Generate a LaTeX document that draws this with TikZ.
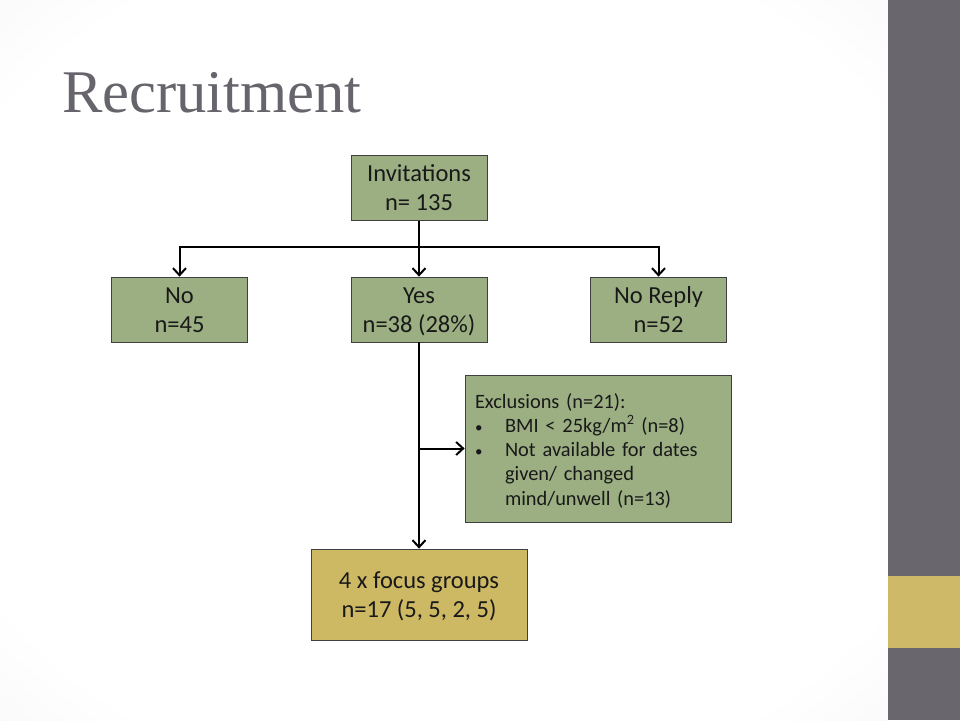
\documentclass[tikz,border=0pt]{standalone}
\usepackage{fontspec}
\setmainfont{Carlito}
\newfontfamily\titlefont{Liberation Serif}
\usetikzlibrary{arrows.meta,calc}
\definecolor{boxgreen}{HTML}{9BAF82}
\definecolor{boxgold}{HTML}{CDB864}
\definecolor{bargrey}{HTML}{69666D}
\definecolor{bargold}{HTML}{CDB968}
\definecolor{titlegrey}{HTML}{67646C}
\pgfdeclareradialshading{slideshade}{\pgfpoint{0bp}{0bp}}{color(0bp)=(white); color(30bp)=(white); color(71bp)=(black!14)}
\def\bstrut{\rule[-6pt]{0pt}{28pt}}
\def\smallbullet{{\fontsize{15}{15}\selectfont\textbullet}}
\tikzset{
	box/.style={draw=black!75, line width=0.8pt, fill=boxgreen, text=black!90, minimum width=136pt, minimum height=65pt, inner sep=0pt, align=center, font=\fontsize{24.5}{29}\selectfont},
	link/.style={line width=2pt},
	arr/.style={line width=2pt, -{Straight Barb[length=7pt,width=13pt]}}
}

\begin{document}
\begin{tikzpicture}[x=1pt,y=-1pt]
			%%%%% START %%%%%
			
			\useasboundingbox (0,0) rectangle (960,720);
			\shade[shading=slideshade] (0,0) rectangle (888,720);
			\fill[bargrey] (888,0) rectangle (960,720);
			\fill[bargold] (888,576) rectangle (960,648);
			
			\node[anchor=base west, inner sep=0pt, text=titlegrey, font=\titlefont\fontsize{60.6}{62}\selectfont] (title) at (62,112) {Recruitment};
			
			\node[box] (inv) at (419,188) {\bstrut Invitations\\\bstrut n= 135};
			\node[box] (no) at (179.5,309.5) {\bstrut No\\\bstrut n=45};
			\node[box] (yes) at (419,309.5) {\bstrut Yes\\\bstrut n=38 (28\%)};
			\node[box] (noreply) at (658.5,309.5) {\bstrut No Reply\\\bstrut n=52};
			
			\node[box, minimum width=266pt, minimum height=147pt, text width=246pt, align=left, font=\fontsize{20.4}{24.25}\selectfont] (excl) at (598,448.5) {%
				\begin{tabular}{@{}p{30pt}@{}l@{}}
				\multicolumn{2}{@{}l@{}}{\rule{0pt}{23.3pt}Exclusions (n=21):}\\
				\smallbullet & BMI < 25kg/m\textsuperscript{2} (n=8)\\
				\smallbullet & Not available for dates\\
				 & given/ changed\\
				 & mind/unwell (n=13)
				\end{tabular}};
			
			\node[box, fill=boxgold, minimum width=216pt, minimum height=91pt] (focus) at (419,594.5) {\bstrut 4 x focus groups\\\bstrut n=17 (5, 5, 2, 5)};
			
			% branches
			\coordinate (split) at (419,247);
			\coordinate (exsplit) at (yes.south |- excl.west);
			\draw[link] (inv.south) -- (split);
			\draw[arr] (split) -| (no.north);
			\draw[arr] (split) -| (noreply.north);
			\draw[arr] (split) -- (yes.north);
			\draw[arr] (yes.south) -- (focus.north);
			\draw[arr] (exsplit) -- (excl.west);
			
			%%%%% END %%%%%
		\end{tikzpicture}
\end{document}
